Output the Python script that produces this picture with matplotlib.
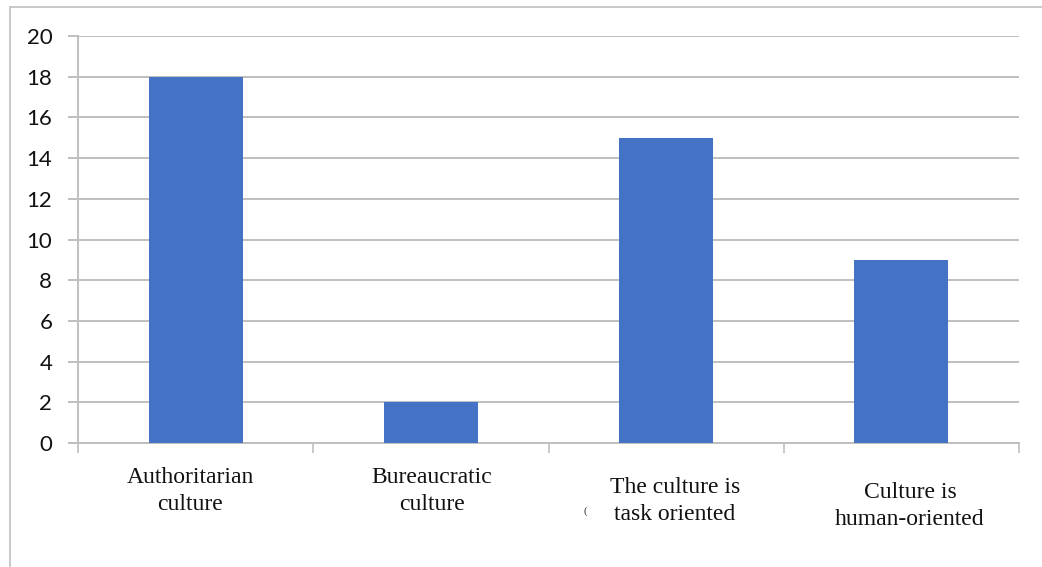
import matplotlib
matplotlib.use("Agg")
import matplotlib.pyplot as plt
from matplotlib.lines import Line2D

categories = ["Authoritarian\nculture", "Bureaucratic\nculture",
              "The culture is\ntask oriented", "Culture is\nhuman-oriented"]
values = [18, 2, 15, 9]
y_ticks = [0, 2, 4, 6, 8, 10, 12, 14, 16, 18, 20]

bar_color = "#4472C4"
grid_color = "#BFBFBF"

fig = plt.figure(figsize=(10.42, 5.67), dpi=100)
ax = fig.add_axes([0.0749, 0.2187, 0.978 - 0.0749, 0.9365 - 0.2187])

x = list(range(len(values)))
ax.bar(x, values, width=0.4, color=bar_color, zorder=3)

ax.set_xlim(-0.5, len(values) - 0.5)
ax.set_ylim(0, 20)
ax.set_yticks(y_ticks)
ax.set_yticklabels([str(v) for v in y_ticks], fontsize=16, family="Lato", color="#111111")
ax.yaxis.grid(True, color=grid_color, linewidth=1.4, zorder=0)
ax.tick_params(axis="y", length=7, width=1.4, color=grid_color, pad=11.5)

# category boundaries as x ticks, labels drawn separately
ax.set_xticks([i - 0.5 for i in range(len(values) + 1)])
ax.set_xticklabels([])
ax.tick_params(axis="x", length=7, width=1.2, color=grid_color)

for side in ["top", "right"]:
    ax.spines[side].set_visible(False)
ax.spines["left"].set_color(grid_color)
ax.spines["left"].set_linewidth(1.4)
ax.spines["bottom"].set_color(grid_color)
ax.spines["bottom"].set_linewidth(1.4)

# category labels with their individual offsets below the axis
label_pos = [(190, 491), (432, 491), (675, 501), (910, 506)]
for (px, py), text in zip(label_pos, categories):
    fig.text(px / 1042, 1 - py / 567, text, ha="center", va="center",
             family="Liberation Serif", fontsize=17, color="#111111", linespacing=1.32)
fig.text(585 / 1042, 1 - 511 / 567, "(", ha="center", va="center",
         family="Liberation Serif", fontsize=8, color="#333333")

# outer frame on the top and left
fig.add_artist(Line2D([10 / 1042, 1.0], [1 - 7 / 567, 1 - 7 / 567],
                      transform=fig.transFigure, color="#C8C8C8", linewidth=1.4))
fig.add_artist(Line2D([10 / 1042, 10 / 1042], [1 - 7 / 567, 0.0],
                      transform=fig.transFigure, color="#C8C8C8", linewidth=1.4))

fig.savefig("out.png", dpi=100)
